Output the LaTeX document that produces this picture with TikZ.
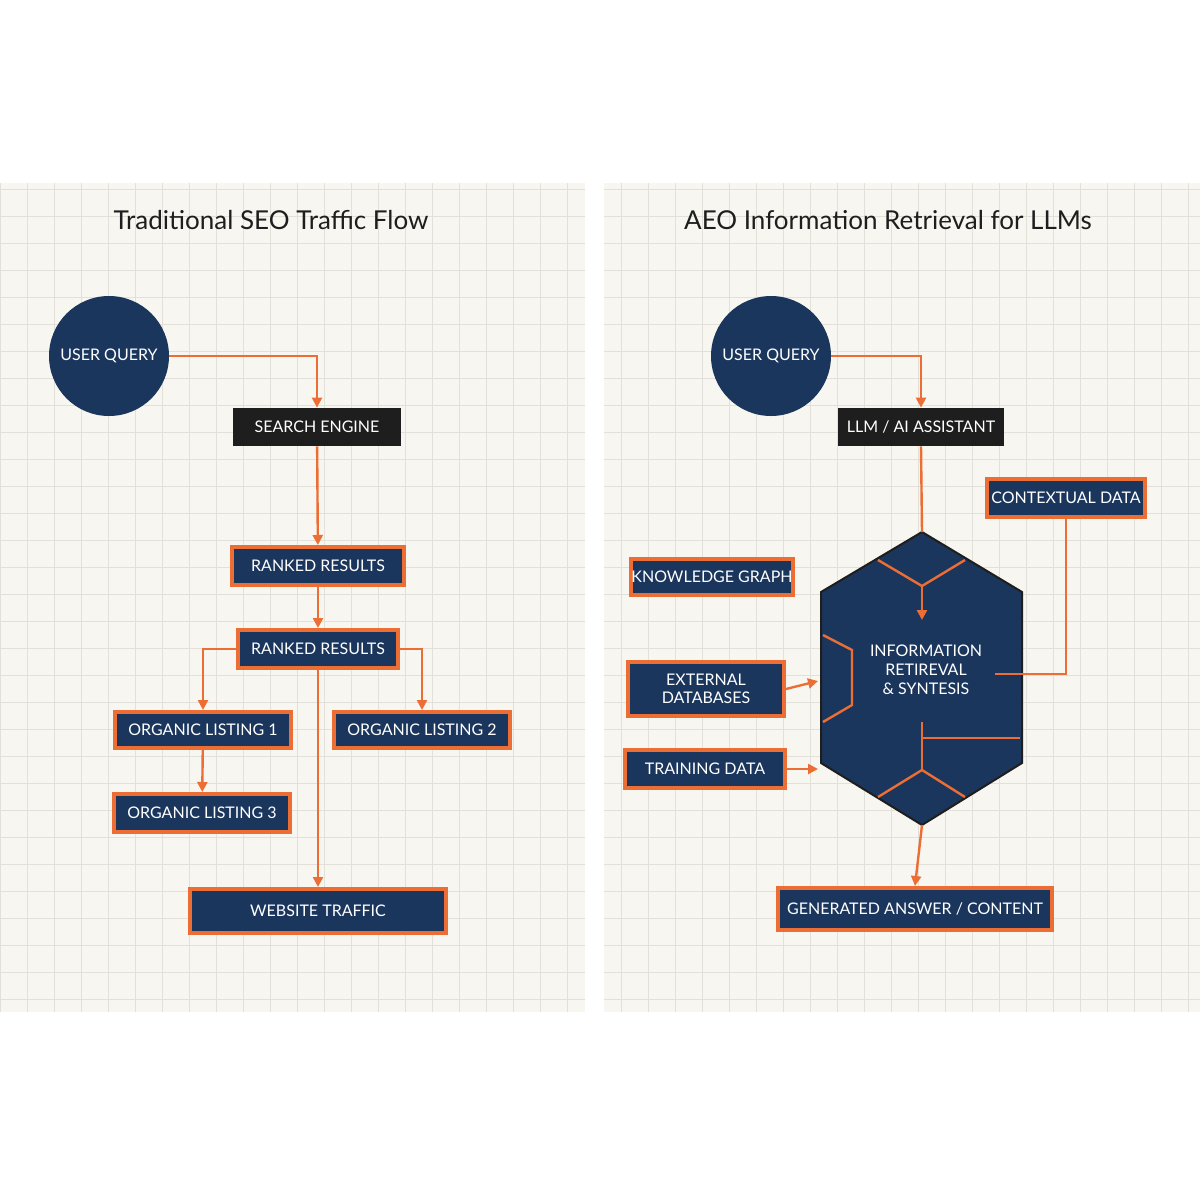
\documentclass[tikz,border=0pt]{standalone}
\usepackage{fontspec}
\setmainfont{Lato}
\definecolor{navy}{RGB}{27, 54, 93}
\definecolor{accent}{RGB}{236, 110, 52}
\definecolor{paper}{RGB}{248, 246, 240}
\definecolor{gridline}{RGB}{226, 224, 216}
\definecolor{ink}{RGB}{30, 30, 30}
\usetikzlibrary{calc,shapes,positioning,arrows.meta}

\tikzset{
    box/.style={draw=accent, line width=2pt, fill=navy, text=white, font=\fontsize{8}{9}\selectfont, inner sep=0pt, align=center},
    blackbox/.style={fill=ink, text=white, font=\fontsize{8}{9}\selectfont, inner sep=0pt},
    query/.style={circle, fill=navy, text=white, font=\fontsize{8}{9}\selectfont, minimum size=60pt, inner sep=0pt},
    link/.style={draw=accent, line width=1.2pt, -{Triangle[length=5pt,width=5pt]}},
    wire/.style={draw=accent, line width=1.2pt},
    title/.style={font=\fontsize{13}{15}\selectfont, text=ink}
}

\begin{document}
\begin{tikzpicture}[x=0.5pt, y=-0.5pt]
    \useasboundingbox (0,0) rectangle (1200,1200);
    \fill[white] (0,0) rectangle (1200,1200);

    % Panels with grid
    \fill[paper] (0,183) rectangle (585,1012);
    \fill[paper] (604,183) rectangle (1200,1012);
    \begin{scope}
        \clip (0,183) rectangle (585,1012) (604,183) rectangle (1200,1012);
        \foreach \x in {0,27,...,1200} \draw[gridline, line width=0.5pt] (\x,183) -- (\x,1012);
        \foreach \y in {189,216,...,1012} \draw[gridline, line width=0.5pt] (0,\y) -- (1200,\y);
    \end{scope}

    % Titles
    \node[title] (t1) at (271,220) {Traditional SEO Traffic Flow};
    \node[title] (t2) at (888,220) {AEO Information Retrieval for LLMs};

    % Left flow
    \node[query] (uq1) at (109,356) {USER QUERY};
    \node[blackbox, minimum width=84pt, minimum height=19pt] (se) at (317,427) {SEARCH ENGINE};
    \node[box, minimum width=86pt, minimum height=19pt] (rr1) at (318,566) {RANKED RESULTS};
    \node[box, minimum width=80pt, minimum height=19pt] (rr2) at (318,649) {RANKED RESULTS};
    \node[box, minimum width=88pt, minimum height=18pt] (ol1) at (203,730) {ORGANIC LISTING 1};
    \node[box, minimum width=88pt, minimum height=18pt] (ol2) at (422,730) {ORGANIC LISTING 2};
    \node[box, minimum width=88pt, minimum height=19pt] (ol3) at (202,813) {ORGANIC LISTING 3};
    \node[box, minimum width=128pt, minimum height=22pt] (wt) at (318,911) {WEBSITE TRAFFIC};

    \draw[link] (uq1.east) -| (se.north);
    \draw[link] (se) -- (rr1);
    \draw[link] (rr1) -- (rr2);
    \draw[link] (rr2.west) -| (ol1.north);
    \draw[link] (rr2.east) -| (ol2.north);
    \draw[link] (ol1) -- (ol3);
    \draw[link] (rr2) -- (wt);

    % Right flow
    \node[query] (uq2) at (771,356) {USER QUERY};
    \node[blackbox, minimum width=83pt, minimum height=19pt] (llm) at (921,427) {LLM / AI ASSISTANT};
    \node[box, minimum width=79pt, minimum height=19pt] (ctx) at (1066,498) {CONTEXTUAL DATA};
    \node[box, minimum width=81pt, minimum height=18pt] (kg) at (712,577) {KNOWLEDGE GRAPH};
    \node[box, minimum width=78pt, minimum height=27pt] (ed) at (706,689) {EXTERNAL\\DATABASES};
    \node[box, minimum width=80pt, minimum height=19pt] (td) at (705,769) {TRAINING DATA};
    \node[box, minimum width=137pt, minimum height=21pt] (ga) at (915,909) {GENERATED ANSWER / CONTENT};

    % Hexagon
    \draw[fill=navy, draw=ink, line width=1pt]
        (922,532) -- (1022,592) -- (1022,763) -- (922,825) -- (821,763) -- (821,592) -- cycle;
    \coordinate (hxtop) at (922,532);
    \coordinate (hxbot) at (922,825);
    \coordinate (hxr) at (995,674);
    \node[text=white, font=\fontsize{8}{9.5}\selectfont, align=center] (ir) at (926,670)
        {INFORMATION\\RETIREVAL\\\& SYNTESIS};
    \draw[wire] (878,560) -- (922,586) -- (965,560);
    \draw[link] (922,586) -- (922,620);
    \draw[wire] (823,635) -- (852,650) -- (852,705) -- (823,722);
    \draw[wire] (922,722) -- (922,770);
    \draw[wire] (922,738) -- (1020,738);
    \draw[wire] (878,797) -- (922,770) -- (965,797);

    \draw[wire] (llm.south) -- (hxtop);
    \draw[wire] (ctx.south) |- (hxr);
    \draw[link] (ed.east) -- (818,681);
    \draw[link] (td.east) -- (818,769);
    \draw[link] (hxbot) -- (ga.north);
    \draw[link] (uq2.east) -| (llm.north);
\end{tikzpicture}
\end{document}
